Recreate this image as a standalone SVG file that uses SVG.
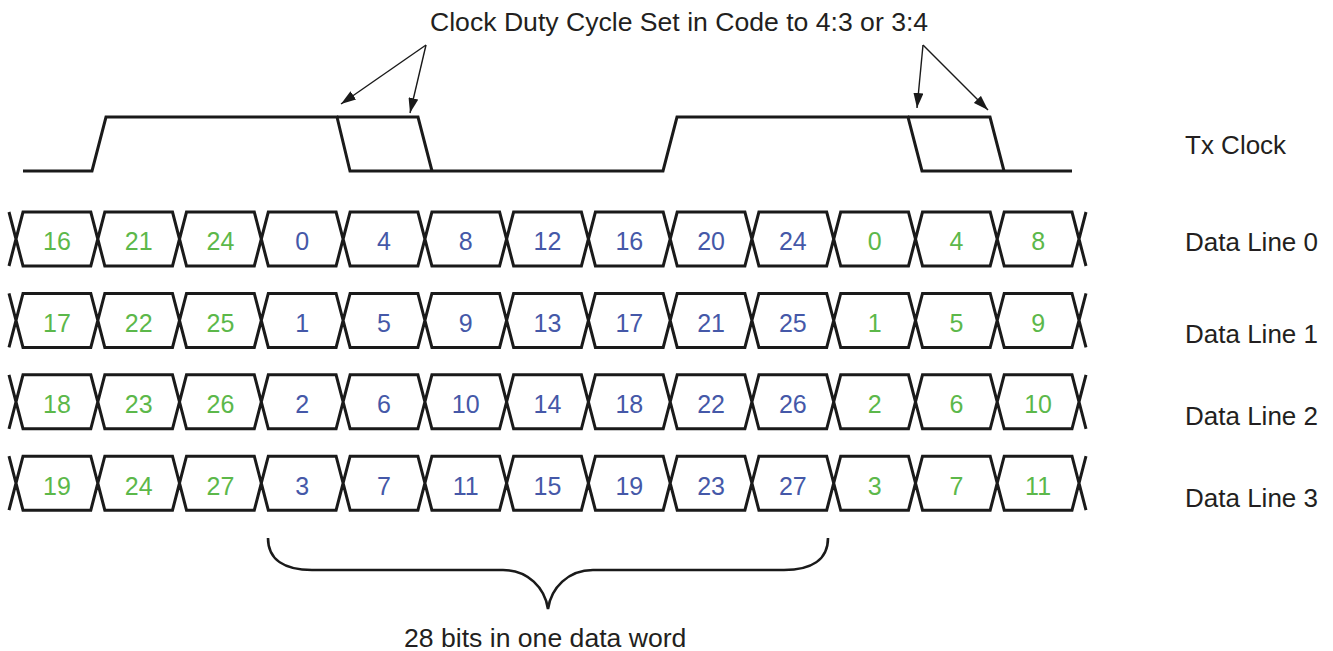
<svg xmlns="http://www.w3.org/2000/svg" xmlns:xlink="http://www.w3.org/1999/xlink" width="1333" height="651" viewBox="0 0 1333 651">
<style>
  .txt { font-family: "Liberation Sans", Arial, sans-serif; fill: #231f20; font-size: 26px; }
  .big { font-size: 26.6px; }
  .num { font-family: "Liberation Sans", Arial, sans-serif; font-size: 25px; text-anchor: middle; }
  .g { fill: #5cb84a; }
  .b { fill: #4558a8; }
  .wave { fill: none; stroke: #1a1a1a; stroke-width: 3; stroke-linejoin: miter; }
  .arr { fill: none; stroke: #1a1a1a; stroke-width: 1.4; marker-end: url(#ah); }
  .brace { fill: none; stroke: #1a1a1a; stroke-width: 2.6; }
</style>
<defs>
  <marker id="ah" markerUnits="userSpaceOnUse" markerWidth="16" markerHeight="10" refX="15" refY="5" orient="auto">
    <path d="M0,0 L15,5 L0,10 Z" fill="#1a1a1a"/>
  </marker>
  <path id="rowshape" class="wave" d="M9,0 L16,27 L9,54 M1086,0 L1079,27 L1086,54
    M16,27 L23,0 L90.8,0 L97.8,27 L90.8,54 L23,54Z
    M97.8,27 L104.8,0 L172.5,0 L179.5,27 L172.5,54 L104.8,54Z
    M179.5,27 L186.5,0 L254.3,0 L261.3,27 L254.3,54 L186.5,54Z
    M261.3,27 L268.3,0 L336.1,0 L343.1,27 L336.1,54 L268.3,54Z
    M343.1,27 L350.1,0 L417.9,0 L424.9,27 L417.9,54 L350.1,54Z
    M424.9,27 L431.9,0 L499.6,0 L506.6,27 L499.6,54 L431.9,54Z
    M506.6,27 L513.6,0 L581.4,0 L588.4,27 L581.4,54 L513.6,54Z
    M588.4,27 L595.4,0 L663.2,0 L670.2,27 L663.2,54 L595.4,54Z
    M670.2,27 L677.2,0 L744.9,0 L751.9,27 L744.9,54 L677.2,54Z
    M751.9,27 L758.9,0 L826.7,0 L833.7,27 L826.7,54 L758.9,54Z
    M833.7,27 L840.7,0 L908.5,0 L915.5,27 L908.5,54 L840.7,54Z
    M915.5,27 L922.5,0 L990.2,0 L997.2,27 L990.2,54 L922.5,54Z
    M997.2,27 L1004.2,0 L1072,0 L1079,27 L1072,54 L1004.2,54Z"/>
</defs>

<g id="title">
  <text class="txt big" x="430" y="31">Clock Duty Cycle Set in Code to 4:3 or 3:4</text>
</g>

<g id="tx-clock">
  <path class="wave" d="M23,171 L92,171 L106,117 L337,117 L350,171 L663,171 L677,117 L908,117 L922,171 L1072,171"/>
  <path class="wave" d="M337,117 L418,117 L432,171"/>
  <path class="wave" d="M908,117 L990,117 L1004,171"/>
  <text class="txt" x="1185" y="154">Tx Clock</text>
</g>

<g id="connectors">
  <line class="arr" x1="426" y1="45" x2="341" y2="104"/>
  <line class="arr" x1="426" y1="45" x2="410" y2="113"/>
  <line class="arr" x1="923" y1="45" x2="917" y2="108"/>
  <line class="arr" x1="923" y1="45" x2="988" y2="110"/>
</g>

<g id="data-line-0">
  <use xlink:href="#rowshape" href="#rowshape" transform="translate(0,212)"/>
  <g class="num">
    <text class="g" x="56.9" y="250">16</text><text class="g" x="138.7" y="250">21</text><text class="g" x="220.4" y="250">24</text>
    <text class="b" x="302.2" y="250">0</text><text class="b" x="384" y="250">4</text><text class="b" x="465.7" y="250">8</text><text class="b" x="547.5" y="250">12</text><text class="b" x="629.3" y="250">16</text><text class="b" x="711.1" y="250">20</text><text class="b" x="792.8" y="250">24</text>
    <text class="g" x="874.6" y="250">0</text><text class="g" x="956.4" y="250">4</text><text class="g" x="1038.1" y="250">8</text>
  </g>
  <text class="txt" x="1185" y="251">Data Line 0</text>
</g>

<g id="data-line-1">
  <use xlink:href="#rowshape" href="#rowshape" transform="translate(0,293.4)"/>
  <g class="num">
    <text class="g" x="56.9" y="331.5">17</text><text class="g" x="138.7" y="331.5">22</text><text class="g" x="220.4" y="331.5">25</text>
    <text class="b" x="302.2" y="331.5">1</text><text class="b" x="384" y="331.5">5</text><text class="b" x="465.7" y="331.5">9</text><text class="b" x="547.5" y="331.5">13</text><text class="b" x="629.3" y="331.5">17</text><text class="b" x="711.1" y="331.5">21</text><text class="b" x="792.8" y="331.5">25</text>
    <text class="g" x="874.6" y="331.5">1</text><text class="g" x="956.4" y="331.5">5</text><text class="g" x="1038.1" y="331.5">9</text>
  </g>
  <text class="txt" x="1185" y="343">Data Line 1</text>
</g>

<g id="data-line-2">
  <use xlink:href="#rowshape" href="#rowshape" transform="translate(0,374.8)"/>
  <g class="num">
    <text class="g" x="56.9" y="413">18</text><text class="g" x="138.7" y="413">23</text><text class="g" x="220.4" y="413">26</text>
    <text class="b" x="302.2" y="413">2</text><text class="b" x="384" y="413">6</text><text class="b" x="465.7" y="413">10</text><text class="b" x="547.5" y="413">14</text><text class="b" x="629.3" y="413">18</text><text class="b" x="711.1" y="413">22</text><text class="b" x="792.8" y="413">26</text>
    <text class="g" x="874.6" y="413">2</text><text class="g" x="956.4" y="413">6</text><text class="g" x="1038.1" y="413">10</text>
  </g>
  <text class="txt" x="1185" y="425">Data Line 2</text>
</g>

<g id="data-line-3">
  <use xlink:href="#rowshape" href="#rowshape" transform="translate(0,456.2)"/>
  <g class="num">
    <text class="g" x="56.9" y="494.5">19</text><text class="g" x="138.7" y="494.5">24</text><text class="g" x="220.4" y="494.5">27</text>
    <text class="b" x="302.2" y="494.5">3</text><text class="b" x="384" y="494.5">7</text><text class="b" x="465.7" y="494.5">11</text><text class="b" x="547.5" y="494.5">15</text><text class="b" x="629.3" y="494.5">19</text><text class="b" x="711.1" y="494.5">23</text><text class="b" x="792.8" y="494.5">27</text>
    <text class="g" x="874.6" y="494.5">3</text><text class="g" x="956.4" y="494.5">7</text><text class="g" x="1038.1" y="494.5">11</text>
  </g>
  <text class="txt" x="1185" y="507">Data Line 3</text>
</g>

<g id="data-word-brace">
  <path class="brace" d="M268,538 C268,560 285,570 312,570 L503,570 C528,570 545,588 548,609 C551,588 568,570 593,570 L784,570 C811,570 828,560 828,538"/>
  <text class="txt big" x="404" y="647">28 bits in one data word</text>
</g>
</svg>
